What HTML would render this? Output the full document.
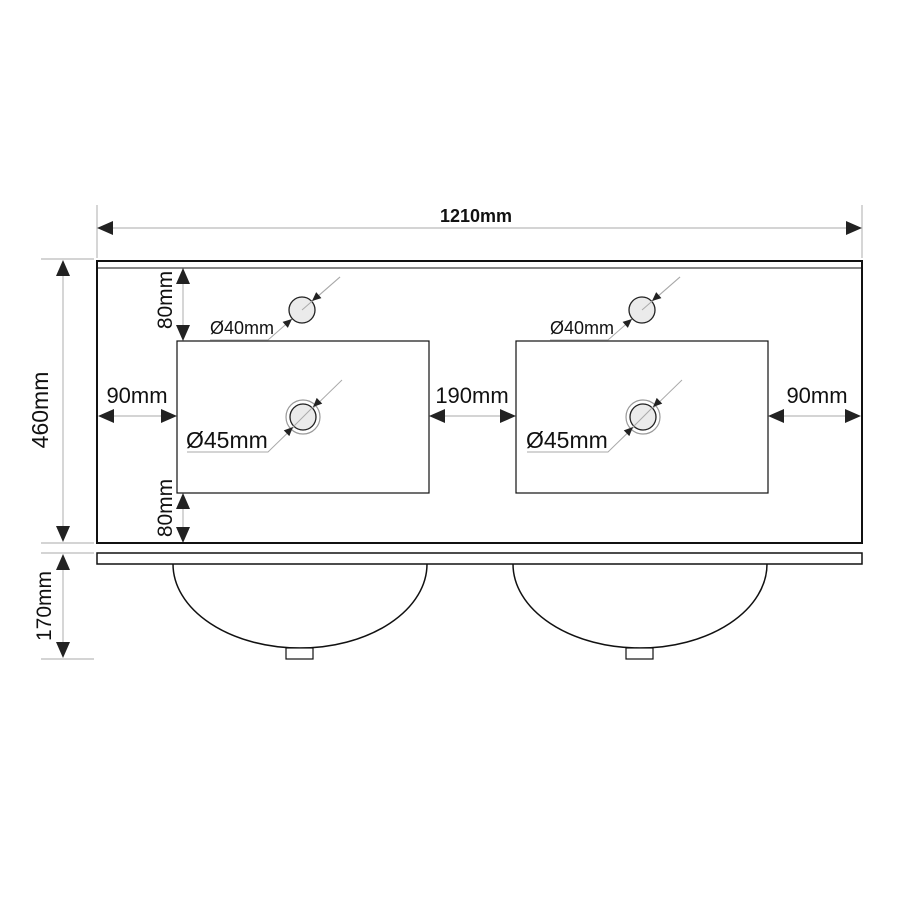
<!DOCTYPE html>
<html><head><meta charset="utf-8"><style>
html,body{margin:0;padding:0;background:#fff;}
svg{display:block;}
text{font-family:"Liberation Sans",Arial,sans-serif;fill:#111;}
</style></head><body>
<svg width="900" height="900" viewBox="0 0 900 900" xmlns="http://www.w3.org/2000/svg">
<defs>
<g id="ah"><polygon points="0,0 -16,-7 -16,7" fill="#222"/></g>
<g id="sa"><polygon points="0,0 -9,-4 -9,4" fill="#222"/></g>
</defs>
<g stroke="#bbb" stroke-width="1.2" fill="none">
<line x1="97" y1="205" x2="97" y2="258"/>
<line x1="862" y1="205" x2="862" y2="258"/>
<line x1="110" y1="228" x2="850" y2="228"/>
<line x1="41" y1="259" x2="94" y2="259"/>
<line x1="41" y1="543" x2="94" y2="543"/>
<line x1="63" y1="270" x2="63" y2="533"/>
<line x1="41" y1="553" x2="94" y2="553"/>
<line x1="41" y1="659" x2="94" y2="659"/>
<line x1="63" y1="565" x2="63" y2="648"/>
<line x1="183" y1="278" x2="183" y2="330"/>
<line x1="183" y1="503" x2="183" y2="533"/>
<line x1="108" y1="416" x2="166" y2="416"/>
<line x1="440" y1="416" x2="505" y2="416"/>
<line x1="779" y1="416" x2="851" y2="416"/>
</g>
<use href="#ah" transform="translate(97,228) rotate(180)"/>
<use href="#ah" transform="translate(862,228)"/>
<use href="#ah" transform="translate(63,260) rotate(-90)"/>
<use href="#ah" transform="translate(63,542) rotate(90)"/>
<use href="#ah" transform="translate(63,554) rotate(-90)"/>
<use href="#ah" transform="translate(63,658) rotate(90)"/>
<use href="#ah" transform="translate(183,268) rotate(-90)"/>
<use href="#ah" transform="translate(183,341) rotate(90)"/>
<use href="#ah" transform="translate(183,493) rotate(-90)"/>
<use href="#ah" transform="translate(183,543) rotate(90)"/>
<use href="#ah" transform="translate(98,416) rotate(180)"/>
<use href="#ah" transform="translate(177,416)"/>
<use href="#ah" transform="translate(429,416) rotate(180)"/>
<use href="#ah" transform="translate(516,416)"/>
<use href="#ah" transform="translate(768,416) rotate(180)"/>
<use href="#ah" transform="translate(861,416)"/>
<g stroke="#111" fill="none">
<rect x="97" y="261" width="765" height="282" stroke-width="2"/>
<line x1="98" y1="268" x2="861" y2="268" stroke-width="1"/>
<rect x="177" y="341" width="252" height="152" stroke-width="1.2"/>
<rect x="516" y="341" width="252" height="152" stroke-width="1.2"/>
<rect x="97" y="553" width="765" height="11" stroke-width="1.5"/>
<path d="M173,564 A127,84 0 0 0 427,564" stroke-width="1.5"/>
<path d="M513,564 A127,84 0 0 0 767,564" stroke-width="1.5"/>
<rect x="286" y="648" width="27" height="11" stroke-width="1.2" fill="#fff"/>
<rect x="626" y="648" width="27" height="11" stroke-width="1.2" fill="#fff"/>
</g>
<g id="holes">
<polyline points="340,277 268,340 210,340" stroke="#aaa" stroke-width="1" fill="none"/>
<circle cx="302" cy="310" r="13" fill="#ebebeb" stroke="#222" stroke-width="1.3"/>
<polyline points="302,310 340,277" stroke="#aaa" stroke-width="1" fill="none"/>
<use href="#sa" transform="translate(312,301) rotate(139)"/>
<use href="#sa" transform="translate(292,319) rotate(-41)"/>
<polyline points="342,380 268,452 187,452" stroke="#aaa" stroke-width="1" fill="none"/>
<circle cx="303" cy="417" r="17" fill="none" stroke="#999" stroke-width="1.2"/>
<circle cx="303" cy="417" r="13" fill="#ebebeb" stroke="#222" stroke-width="1.3"/>
<line x1="290" y1="430" x2="316" y2="404" stroke="#aaa" stroke-width="1"/>
<use href="#sa" transform="translate(313,407) rotate(136)"/>
<use href="#sa" transform="translate(293,427) rotate(-44)"/>
<text x="210" y="334" font-size="18">Ø40mm</text>
<text x="186" y="448" font-size="23">Ø45mm</text>
</g>
<use href="#holes" transform="translate(340,0)"/>
<text x="476" y="222" font-size="18" font-weight="bold" text-anchor="middle">1210mm</text>
<text x="137" y="403" font-size="22" text-anchor="middle">90mm</text>
<text x="472" y="403" font-size="22" text-anchor="middle">190mm</text>
<text x="817" y="403" font-size="22" text-anchor="middle">90mm</text>
<text font-size="23" text-anchor="middle" transform="translate(48,410) rotate(-90)">460mm</text>
<text font-size="21" text-anchor="middle" transform="translate(51,606) rotate(-90)">170mm</text>
<text font-size="21" text-anchor="middle" transform="translate(172,300) rotate(-90)">80mm</text>
<text font-size="21" text-anchor="middle" transform="translate(172,508) rotate(-90)">80mm</text>
</svg>
</body></html>
